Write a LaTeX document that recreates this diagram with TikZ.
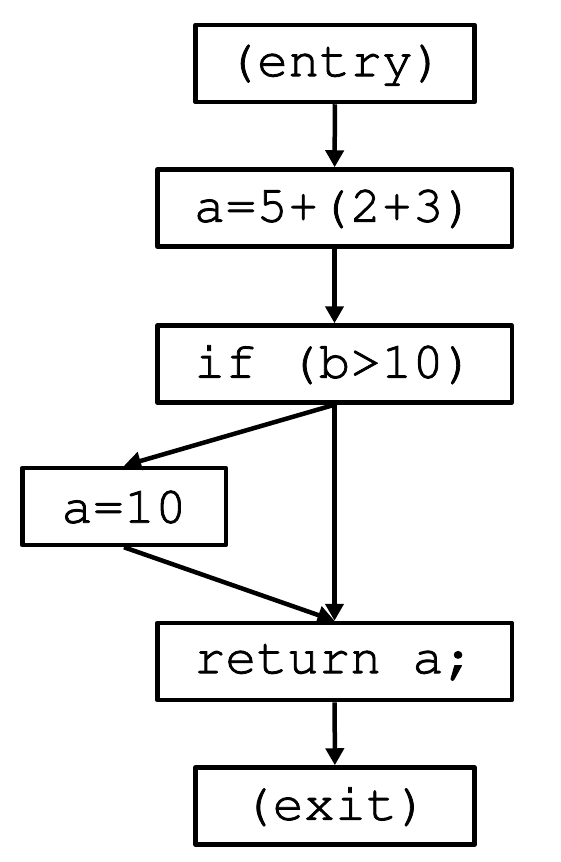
\documentclass[tikz,border=0pt]{standalone}
\usepackage[T1]{fontenc}
\usepackage{courier}
\usetikzlibrary{arrows.meta, positioning}

% slightly heavier strokes for the code text
\newcommand{\codetext}[1]{\special{pdf:literal direct 2 Tr 0.8 w}#1\special{pdf:literal direct 0 Tr}}

\begin{document}
\begin{tikzpicture}[x=1pt, y=-1pt,
    block/.style={draw, line width=4.5pt, line join=round, minimum height=77pt, inner sep=0pt,
        font=\fontsize{52}{52}\selectfont\ttfamily},
    flow/.style={line width=4.5pt, -{Triangle[length=17pt, width=18pt]}}]
    % Page size
    \useasboundingbox (0,0) rectangle (560,862);
    % Block widths
    \def\wMain{354.5pt}
    \def\wEnd{279pt}
    \def\wSide{203.5pt}

    % Draw the blocks
    \node[block, minimum width=\wEnd] (entry) at (335,63.5) {\codetext{(entry)}};
    \node[block, minimum width=\wMain] (assign) at (334.5,208) {\codetext{a=5+(2+3)}};
    \node[block, minimum width=\wMain] (cond) at (334.5,364) {\codetext{if (b>10)}};
    \node[block, minimum width=\wSide] (then) at (124,506.5) {\codetext{a=10}};
    \node[block, minimum width=\wMain] (ret) at (334.5,661.5) {\codetext{return a;}};
    \node[block, minimum width=\wEnd] (exit) at (335,806) {\codetext{(exit)}};

    % Draw the edges
    \draw[flow] (entry) -- (assign);
    \draw[flow] (assign) -- (cond);
    \draw[flow] (cond.south) -- (then.north);
    \draw[flow] (cond) -- (ret);
    \draw[flow] (then.south) -- (ret.north);
    \draw[flow] (ret) -- (exit);
\end{tikzpicture}
\end{document}
